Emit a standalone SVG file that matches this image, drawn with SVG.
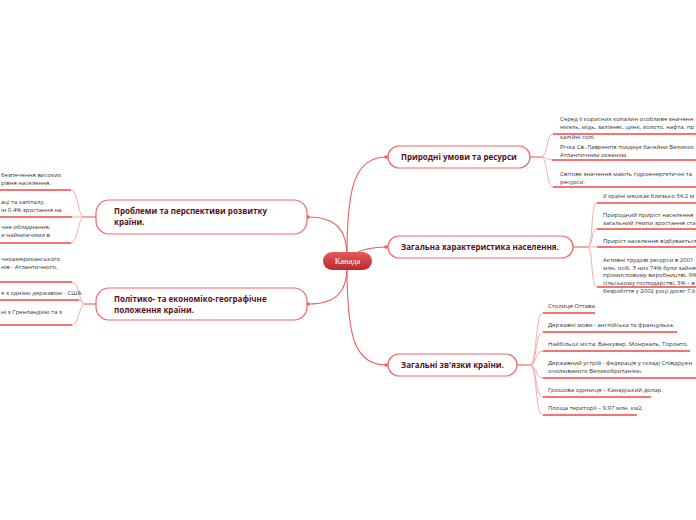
<svg xmlns="http://www.w3.org/2000/svg" width="696" height="520" viewBox="0 0 696 520">
<defs>
<linearGradient id="cg" x1="0" y1="0" x2="0" y2="1">
<stop offset="0" stop-color="#e65a5a"/>
<stop offset="1" stop-color="#b8292c"/>
</linearGradient>
<style>
.main{fill:#fff;stroke:#f26666;stroke-width:1.2}
.mt{font-family:"Open Sans","Noto Sans",sans-serif;font-size:8px;font-weight:bold;fill:#5a0f1c}
.lt{font-family:"Open Sans","Noto Sans",sans-serif;font-size:6px;fill:#333}
.c{fill:none;stroke:#f25c5c;stroke-width:1.1}
.lc{fill:none;stroke:#f8a0a0;stroke-width:0.9}
.ul{fill:none;stroke:#f04545;stroke-width:1.4}
.dot{fill:#f25c5c}
</style>
</defs>
<rect width="696" height="520" fill="#fff"/>
<g id="connectors">
<path class="c" d="M347,256 C347,195 352,157 386,157"/>
<path class="c" d="M353,254 C363,249 372,247 386,247"/>
<path class="c" d="M347,267 C347,335 354,365 386,365"/>
<path class="c" d="M347,256 C347,230 336,217 308,217"/>
<path class="c" d="M347,267 C347,292 336,304 308,304"/>
<circle class="dot" cx="386" cy="157" r="1.8"/>
<circle class="dot" cx="386" cy="247" r="1.8"/>
<circle class="dot" cx="386" cy="365" r="1.8"/>
<circle class="dot" cx="308" cy="217" r="1.8"/>
<circle class="dot" cx="308" cy="304" r="1.8"/>
<path class="c" d="M530,157 L541,157"/>
<path class="lc" d="M541,157 C548,157 546,134 553,134"/>
<path class="lc" d="M541,157 C546,157 547,160 552,160"/>
<path class="lc" d="M541,157 C548,157 546,187 553,187"/>
<path class="c" d="M573,247 L587,247"/>
<path class="lc" d="M587,247 C594,247 590,203 597,203"/>
<path class="lc" d="M587,247 C594,247 590,229 597,229"/>
<path class="lc" d="M587,247 L597,247"/>
<path class="lc" d="M587,247 C594,247 590,287 597,287"/>
<path class="c" d="M517,365 L530,365"/>
<path class="lc" d="M530,365 C537,365 535,313 543,313"/>
<path class="lc" d="M530,365 C537,365 535,332 543,332"/>
<path class="lc" d="M530,365 C537,365 535,351 543,351"/>
<path class="lc" d="M530,365 C537,365 535,378 543,378"/>
<path class="lc" d="M530,365 C537,365 535,397 543,397"/>
<path class="lc" d="M530,365 C537,365 535,415 543,415"/>
<path class="c" d="M96,217 L84,217"/>
<path class="lc" d="M84,217 C78,217 78,190 71,190"/>
<path class="lc" d="M84,217 L72,217"/>
<path class="lc" d="M84,217 C78,217 78,243 71,243"/>
<path class="c" d="M96,304 L85,304"/>
<path class="lc" d="M85,304 C79,304 79,282 72,282"/>
<path class="lc" d="M85,304 C81,304 82,300 79,300"/>
<path class="lc" d="M85,304 C79,304 79,325 72,325"/>
</g>
<g id="center">
<rect x="323" y="252" width="49" height="18" rx="9" fill="url(#cg)"/>
<text x="347.5" y="264" text-anchor="middle" font-family="'Liberation Serif',serif" font-size="8.5" fill="#fff">Канада</text>
</g>
<g id="n-pryrodni">
<rect class="main" x="388" y="146" width="142" height="22" rx="11"/>
<text class="mt" x="401" y="160">Природні умови та ресурси</text>
</g>
<g id="n-naselennia">
<rect class="main" x="388" y="236" width="185" height="22" rx="11"/>
<text class="mt" x="401" y="250">Загальна характеристика населення.</text>
</g>
<g id="n-zviazky">
<rect class="main" x="388" y="354" width="129" height="22" rx="11"/>
<text class="mt" x="401" y="368">Загальні зв'язки країни.</text>
</g>
<g id="n-problemy">
<rect class="main" x="96" y="200" width="211" height="34" rx="13"/>
<text class="mt" x="114" y="214">Проблеми та перспективи розвитку</text>
<text class="mt" x="114" y="225">країни.</text>
</g>
<g id="n-polityko">
<rect class="main" x="96" y="288" width="211" height="32" rx="13"/>
<text class="mt" x="114" y="302">Політико- та економіко-географічне</text>
<text class="mt" x="114" y="313">положення країни.</text>
</g>
<g id="l-p1">
<text class="lt" x="560" y="121">Серед її корисних копалин особливе значенн</text>
<text class="lt" x="560" y="129">нікель, мідь, залізняк, цинк, золото, нафта, пр</text>
<text class="lt" x="560" y="139">калійні солі.</text>
<path class="ul" d="M553,134 L696,134"/>
</g>
<g id="l-p2">
<text class="lt" x="560" y="149">Річка Св. Лаврентія поєднує басейни Великих</text>
<text class="lt" x="560" y="157">Атлантичним океаном.</text>
<path class="ul" d="M552,160 L696,160"/>
</g>
<g id="l-p3">
<text class="lt" x="560" y="176">Світове значення мають гідроенергетичні та</text>
<text class="lt" x="560" y="184">ресурси.</text>
<path class="ul" d="M553,187 L696,187"/>
</g>
<g id="l-n1">
<text class="lt" x="603" y="198">У країні мешкає близько 34,2 м</text>
<path class="ul" d="M597,203 L696,203"/>
</g>
<g id="l-n2">
<text class="lt" x="603" y="217">Природний приріст населення</text>
<text class="lt" x="603" y="225">загальний темпи зростання ста</text>
<path class="ul" d="M597,229 L696,229"/>
</g>
<g id="l-n3">
<text class="lt" x="603" y="243">Приріст населення відбувається</text>
<path class="ul" d="M597,247 L696,247"/>
</g>
<g id="l-n4">
<text class="lt" x="603" y="262">Активні трудові ресурси в 2001</text>
<text class="lt" x="603" y="270">млн. осіб. З них 74% були зайня</text>
<text class="lt" x="603" y="277">промисловому виробництві, 9%</text>
<text class="lt" x="603" y="285">сільському господарстві, 3% – в</text>
<text class="lt" x="603" y="293">безробіття у 2002 році досяг 7,6</text>
<path class="ul" d="M597,287 L696,287"/>
</g>
<g id="l-z1">
<text class="lt" x="548" y="308">Столиця-Оттава.</text>
<path class="ul" d="M543,313 L595,313"/>
</g>
<g id="l-z2">
<text class="lt" x="548" y="327">Державні мови - англійська та французька.</text>
<path class="ul" d="M543,332 L677,332"/>
</g>
<g id="l-z3">
<text class="lt" x="548" y="346">Найбільші міста: Ванкувер, Монреаль, Торонто.</text>
<path class="ul" d="M543,351 L690,351"/>
</g>
<g id="l-z4">
<text class="lt" x="548" y="365">Державний устрій - федерація у складі Співдружн</text>
<text class="lt" x="548" y="373">очолюваного Великобританією.</text>
<path class="ul" d="M543,378 L696,378"/>
</g>
<g id="l-z5">
<text class="lt" x="548" y="392">Грошова одиниця – Канадський долар.</text>
<path class="ul" d="M543,397 L651,397"/>
</g>
<g id="l-z6">
<text class="lt" x="548" y="410">Площа території – 9,97 млн. км2.</text>
<path class="ul" d="M543,415 L637,415"/>
</g>
<g id="l-pr1">
<text class="lt" x="1" y="177">безпечення високих</text>
<text class="lt" x="1" y="185">рівня населення.</text>
<path class="ul" d="M0,190 L71,190"/>
</g>
<g id="l-pr2">
<text class="lt" x="1" y="204">аці та капіталу,</text>
<text class="lt" x="1" y="212">ін 0.4% зростання на</text>
<path class="ul" d="M0,217 L72,217"/>
</g>
<g id="l-pr3">
<text class="lt" x="1" y="229">чне обладнання,</text>
<text class="lt" x="1" y="237">и найнижчими в</text>
<path class="ul" d="M0,243 L71,243"/>
</g>
<g id="l-po1">
<text class="lt" x="1" y="261">чноамериканського</text>
<text class="lt" x="1" y="269">нів - Атлантичного,</text>
<path class="ul" d="M0,282 L72,282"/>
</g>
<g id="l-po2">
<text class="lt" x="1" y="295">е з однією державою - США.</text>
<path class="ul" d="M0,300 L79,300"/>
</g>
<g id="l-po3">
<text class="lt" x="1" y="314">ні з Гренландією та з</text>
<path class="ul" d="M0,325 L72,325"/>
</g>
</svg>
